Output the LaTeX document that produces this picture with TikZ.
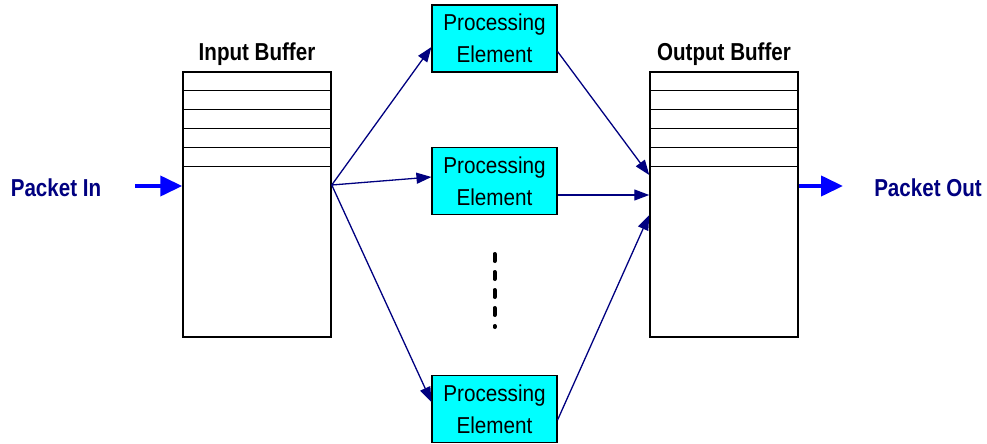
\documentclass[tikz,border=0pt]{standalone}
\usepackage{fontspec}
\setmainfont{Liberation Sans}
\newfontfamily\lblfont{Liberation Sans}[FakeStretch=0.84]
\newfontfamily\pefont{Liberation Sans}[FakeStretch=0.9]
\usetikzlibrary{arrows.meta}
\definecolor{navyline}{RGB}{0,0,128}
\definecolor{pktblue}{RGB}{0,0,255}
\definecolor{pecyan}{RGB}{0,255,255}

\begin{document}
\begin{tikzpicture}[x=1pt,y=-1pt,
  buffer/.style={draw=black, line width=1.5pt, minimum width=148pt, minimum height=265pt, inner sep=0pt},
  pebox/.style={draw=black, line width=1.1pt, fill=pecyan, minimum width=125pt, minimum height=67pt,
    inner sep=0pt, align=center, font=\pefont\fontsize{23}{31.6}\selectfont},
  title/.style={font=\lblfont\bfseries\fontsize{24.5}{28}\selectfont, anchor=base, inner sep=0pt},
  pkt/.style={title, text=navyline},
  link/.style={draw=navyline, line width=1.3pt, -{Triangle[length=15pt,width=11pt]}},
  flow/.style={draw=pktblue, line width=4pt, -{Triangle[length=22pt,width=20pt]}},
  slot/.style={draw=black, line width=1.5pt}]

\useasboundingbox (0,0) rectangle (987,444);

% buffers with their slot rows
\node[buffer] (ib) at (257,204.7) {};
\node[buffer] (ob) at (724,204.7) {};
\foreach \d in {19,38,57,76,95} {
  \draw[slot] ([yshift=-\d pt]ib.north west) -- ([yshift=-\d pt]ib.north east);
  \draw[slot] ([yshift=-\d pt]ob.north west) -- ([yshift=-\d pt]ob.north east);
}
\node[title] (ibl) at ([yshift=11.3pt]ib.north) {Input Buffer};
\node[title] (obl) at ([yshift=11.3pt]ob.north) {Output Buffer};

% processing elements
\node[pebox] (pe1) at (494.5,38.5) {Processing\\Element};
\node[pebox] (pe2) at (494.5,181) {Processing\\Element};
\node[pebox] (pe3) at (494.5,409) {Processing\\Element};

% further elements omitted
\draw[black, line width=4pt, line cap=round, dash pattern=on 7pt off 11pt]
  (pe2.center |- 0,254) -- (pe2.center |- 0,327);

% packet flow in and out
\node[pkt] (pin) at (56,196.7) {Packet In};
\node[pkt] (pout) at (928,196.7) {Packet Out};
\coordinate (pinS) at (135,186);
\coordinate (poutE) at (843,186);
\draw[flow] (pinS) -- (pinS -| ib.west);
\draw[flow] (poutE -| ob.east) -- (poutE);

% dispatch to the elements
\coordinate (fan) at (ib.east |- 0,185);
\draw[link] (fan) -- ([yshift=-8.5pt]pe1.west);
\draw[link] (fan) -- ([yshift=4pt]pe2.west);
\draw[link] (fan) -- ([yshift=7pt]pe3.west);

% collection into the output buffer
\draw[link] ([yshift=-13pt]pe1.east) -- (ob.west |- 0,175);
\draw[link] ([yshift=-14pt]pe2.east) -- (ob.west |- 0,195);
\draw[link] ([yshift=-11pt]pe3.east) -- (ob.west |- 0,215);
\end{tikzpicture}
\end{document}
